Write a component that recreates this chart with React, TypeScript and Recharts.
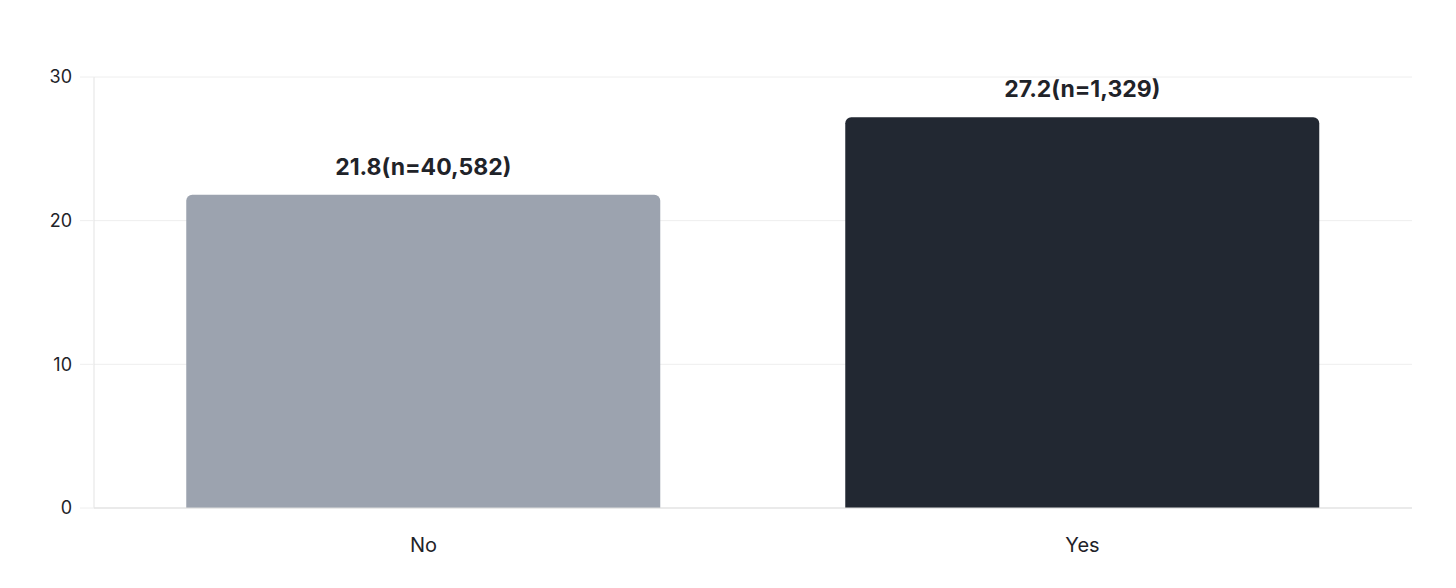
import { BarChart, Bar, XAxis, YAxis, CartesianGrid, LabelList, Cell } from 'recharts'

const categories = ['No', 'Yes']
const values = [21.8, 27.2]
const counts = ['40,582', '1,329']
const colors = ['#9CA3AF', '#222832']
const yTicks = [0, 10, 20, 30]

const data = categories.map((name, i) => ({
  name,
  value: values[i],
  label: `${values[i]}(n=${counts[i]})`,
}))

export default function App() {
  return (
    <div style={{ position: 'absolute', left: 0, top: 0, fontFamily: 'Inter, sans-serif' }}>
      <BarChart
        width={1456}
        height={588}
        data={data}
        margin={{ top: 77, right: 44, bottom: 20, left: 0 }}
        barCategoryGap="14%"
      >
        <CartesianGrid vertical={false} stroke="#eeeeee" />
        <XAxis
          dataKey="name"
          stroke="#dddddd"
          tickLine={false}
          height={60}
          tick={{ fill: '#1f2329', fontSize: 20 }}
          tickMargin={24}
        />
        <YAxis
          domain={[0, 30]}
          ticks={yTicks}
          width={94}
          stroke="#e3e3e3"
          tickSize={14}
          tickLine={{ stroke: '#eeeeee' }}
          tickMargin={8}
          tick={{ fill: '#1f2329', fontSize: 18 }}
        />
        <Bar dataKey="value" radius={[6, 6, 0, 0]} isAnimationActive={false}>
          {data.map((d, i) => (
            <Cell key={d.name} fill={colors[i]} />
          ))}
          <LabelList
            dataKey="label"
            position="top"
            offset={20}
            fill="#1f2329"
            fontSize={23}
            fontWeight={700}
          />
        </Bar>
      </BarChart>
    </div>
  )
}
